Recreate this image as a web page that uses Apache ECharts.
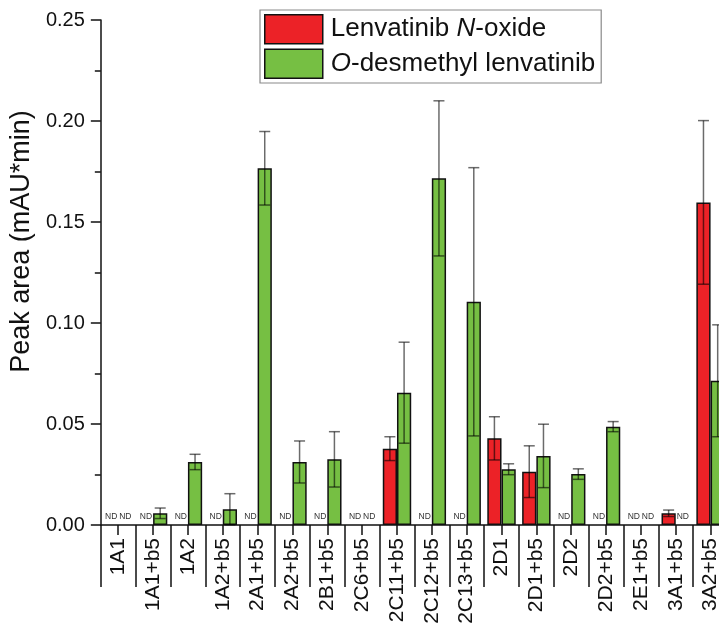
<!DOCTYPE html>
<html>
<head>
<meta charset="utf-8">
<script src="https://cdn.jsdelivr.net/npm/echarts@6/dist/echarts.min.js"></script>
<style>html,body{margin:0;padding:0;background:#fff;overflow:hidden}#c{width:730px;height:627px}</style>
</head>
<body>
<div id="c"></div>
<script>
const categories = ['1A1','1A1+b5','1A2','1A2+b5','2A1+b5','2A2+b5','2B1+b5','2C6+b5','2C11+b5','2C12+b5','2C13+b5','2D1','2D1+b5','2D2','2D2+b5','2E1+b5','3A1+b5','3A2+b5'];
// null = ND (not detected)
const nOxide    = [null, null, null, null, null, null, null, null, 0.0378, null, null, 0.0429, 0.0264, null, null, null, 0.0058, 0.1597];
const nOxideErr = [null, null, null, null, null, null, null, null, 0.0059, null, null, 0.0107, 0.0128, null, null, null, 0.0016, 0.0405];
const desmethyl    = [null, 0.0058, 0.0312, 0.0078, 0.1766, 0.0312, 0.0325, null, 0.0655, 0.1716, 0.1105, 0.0276, 0.0342, 0.0252, 0.0487, null, null, 0.0714];
const desmethylErr = [null, 0.0026, 0.0038, 0.0077, 0.0182, 0.0104, 0.0137, null, 0.0250, 0.0384, 0.0664, 0.0027, 0.0157, 0.0026, 0.0025, null, null, 0.0277];
const yTicks = [0, 0.05, 0.10, 0.15, 0.20, 0.25];
const seriesNames = ['Lenvatinib N-oxide', 'O-desmethyl lenvatinib'];

const FONT = 'Liberation Sans, Arial, sans-serif';
const RED = '#EC2227';
const GREEN = '#76BF43';
const OFF = 0.204; // bar offset as fraction of category width

const errData = [];
const ndData = [];
[[nOxide, nOxideErr, 0], [desmethyl, desmethylErr, 1]].forEach(([vals, errs, s]) => {
  vals.forEach((v, i) => {
    if (v == null) ndData.push([i, s]);
    else errData.push([i, v, errs[i], s]);
  });
});

const chart = echarts.init(document.getElementById('c'));
chart.setOption({
  animation: false,
  backgroundColor: '#fff',
  grid: { left: 98, top: 20, bottom: 102, right: 2, containLabel: false },
  legend: {
    orient: 'vertical',
    left: 260, top: 10,
    padding: [4, 6, 4, 4],
    itemGap: 4,
    itemWidth: 58, itemHeight: 29,
    borderColor: '#8a8a8a', borderWidth: 1.2,
    icon: 'rect',
    itemStyle: { borderColor: '#111', borderWidth: 1.5 },
    data: seriesNames,
    formatter: n => n === seriesNames[0] ? '{r|Lenvatinib }{i|N}{r|-oxide}' : '{i|O}{r|-desmethyl lenvatinib}',
    textStyle: {
      padding: [0, 0, 0, 3],
      rich: {
        r: { fontSize: 26, fontFamily: FONT, color: '#111' },
        i: { fontSize: 26, fontFamily: FONT, color: '#111', fontStyle: 'italic' }
      }
    }
  },
  xAxis: [{
    type: 'category',
    data: categories,
    position: 'bottom',
    axisLine: { lineStyle: { color: '#111', width: 1.5 } },
    axisTick: { show: true, alignWithLabel: false, interval: 0, length: 62, lineStyle: { color: '#111', width: 1.5 } },
    axisLabel: { interval: 0, rotate: 90, margin: 13, fontSize: 21, fontFamily: FONT, color: '#111' },
    splitLine: { show: false }
  }, {
    type: 'category',
    data: categories,
    position: 'bottom',
    axisLine: { show: false },
    axisTick: { show: true, alignWithLabel: true, interval: 0, length: 10, lineStyle: { color: '#111', width: 1.5 } },
    axisLabel: { show: false },
    splitLine: { show: false }
  }],
  yAxis: {
    type: 'value',
    min: yTicks[0], max: yTicks[yTicks.length - 1], interval: 0.05,
    name: 'Peak area (mAU*min)',
    nameLocation: 'middle',
    nameGap: 62,
    nameTextStyle: { fontSize: 27, fontFamily: FONT, color: '#111', padding: [0, 0, 0, 62] },
    axisLine: { show: true, lineStyle: { color: '#111', width: 1.5 } },
    axisTick: { show: true, length: 10, lineStyle: { color: '#111', width: 1.5 } },
    minorTick: { show: true, splitNumber: 2, length: 6, lineStyle: { color: '#111', width: 1.5 } },
    splitLine: { show: false },
    axisLabel: { formatter: v => v.toFixed(2), fontSize: 20, fontFamily: FONT, color: '#111', margin: 16 }
  },
  series: [{
    name: seriesNames[0], type: 'bar', xAxisIndex: 0,
    data: nOxide.map(v => v == null ? '-' : v),
    barWidth: '40.8%', barGap: '0%',
    itemStyle: { color: RED, borderColor: '#111', borderWidth: 1.5 }
  }, {
    name: seriesNames[1], type: 'bar', xAxisIndex: 0,
    data: desmethyl.map(v => v == null ? '-' : v),
    barWidth: '40.8%', barGap: '0%',
    itemStyle: { color: GREEN, borderColor: '#111', borderWidth: 1.5 }
  }, {
    type: 'custom', xAxisIndex: 0, z: 10,
    data: errData,
    encode: { x: 0, y: 1 },
    renderItem: (params, api) => {
      const i = api.value(0), m = api.value(1), e = api.value(2), s = api.value(3);
      const w = api.size([1, 0])[0];
      const dx = (s === 0 ? -1 : 1) * OFF * w;
      const top = api.coord([i, m + e]);
      const bot = api.coord([i, Math.max(0, m - e)]);
      const x = top[0] + dx;
      const hw = 5.5;
      const st = { stroke: 'rgba(0,0,0,0.58)', lineWidth: 1.5 };
      return { type: 'group', children: [
        { type: 'line', shape: { x1: x, y1: top[1], x2: x, y2: bot[1] }, style: st },
        { type: 'line', shape: { x1: x - hw, y1: top[1], x2: x + hw, y2: top[1] }, style: st },
        { type: 'line', shape: { x1: x - hw, y1: bot[1], x2: x + hw, y2: bot[1] }, style: st }
      ]};
    }
  }, {
    type: 'custom', xAxisIndex: 0, z: 10,
    data: ndData,
    encode: { x: 0 },
    renderItem: (params, api) => {
      const i = api.value(0), s = api.value(1);
      const w = api.size([1, 0])[0];
      const c = api.coord([i, 0]);
      const x = c[0] + (s === 0 ? -1 : 1) * OFF * w;
      return { type: 'text', style: { x: x, y: c[1] - 8, text: 'ND', fontSize: 8.5, fontFamily: FONT, fill: '#333', align: 'center', verticalAlign: 'middle' } };
    }
  }]
});
</script>
</body>
</html>
